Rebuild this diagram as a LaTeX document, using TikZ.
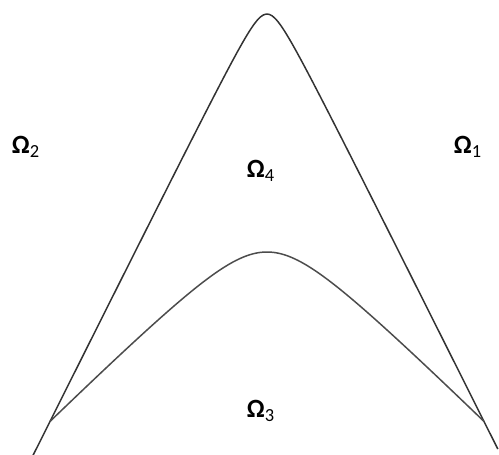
\documentclass[tikz,border=0pt]{standalone}
\usepackage{fontspec}
\setmainfont{Carlito}
\usetikzlibrary{positioning}

\begin{document}
\begin{tikzpicture}[
    x=0.02cm, y=-0.02cm,
    curve/.style={
        draw=black!80, line width=0.85pt,
        smooth, samples=160
    },
    region/.style={
        font=\fontsize{15}{17}\selectfont, inner sep=0pt
    }
]

\useasboundingbox (0,0) rectangle (499,455);

%% Outer arch (rounded peak, nearly straight flanks)
\draw[curve] plot[domain=-2.35:2.31]
    ({267+100*\x}, {14+200*(sqrt(0.018769+\x*\x)-0.137)});

%% Inner arch, meeting the outer one near the base
\draw[curve, draw=black!70] plot[domain=-2.17:2.17]
    ({267+100*\x}, {252+99*(sqrt(0.2704+\x*\x)-0.52)});

%% Region labels
\node[region] (O2) at (26,147)  {\textbf{Ω}\textsubscript{2}};
\node[region] (O1) at (468,147) {\textbf{Ω}\textsubscript{1}};
\node[region] (O4) at (261,171) {\textbf{Ω}\textsubscript{4}};
\node[region] (O3) at (261,411) {\textbf{Ω}\textsubscript{3}};

\end{tikzpicture}
\end{document}
